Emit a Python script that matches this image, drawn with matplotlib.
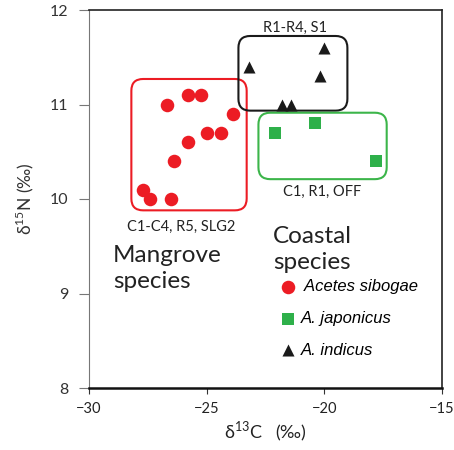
import numpy as np
import matplotlib
matplotlib.use('Agg')
import matplotlib.pyplot as plt
from matplotlib.patches import FancyBboxPatch

plt.rcParams['font.family'] = ['Lato', 'DejaVu Sans']
plt.rcParams['mathtext.fontset'] = 'custom'
plt.rcParams['mathtext.rm'] = 'Lato'
plt.rcParams['axes.unicode_minus'] = True

# Acetes sibogae (mangrove)
sib_c = [-26.7, -25.8, -25.25, -23.9, -25.0, -24.4, -25.8, -26.4, -27.7, -27.4, -26.5]
sib_n = [11.0, 11.1, 11.1, 10.9, 10.7, 10.7, 10.6, 10.4, 10.1, 10.0, 10.0]
# A. japonicus
jap_c = [-22.1, -20.4, -17.8]
jap_n = [10.7, 10.8, 10.4]
# A. indicus
ind_c = [-23.2, -20.0, -20.2, -21.8, -21.4]
ind_n = [11.4, 11.6, 11.3, 11.0, 11.0]

red = '#ec1c24'
green = '#2eb04a'

fig = plt.figure(figsize=(4.54, 4.5), dpi=100)
ax = fig.add_axes([89/454, 1-388/450, 353/454, 378/450])

ax.scatter(sib_c, sib_n, s=95, c=red, marker='o', linewidths=0, label=' Acetes sibogae', zorder=3)
ax.scatter(jap_c, jap_n, s=80, c=green, marker='s', linewidths=0, label='A. japonicus', zorder=3)
ax.scatter(ind_c, ind_n, s=75, c='#1a1a1a', marker='^', linewidths=0, label='A. indicus', zorder=3)

ax.set_xlim(-30, -15)
ax.set_ylim(8, 12)
ax.set_xticks([-30, -25, -20, -15])
ax.set_yticks([8, 9, 10, 11, 12])

# rounded group boxes (corner radius in x units, aspect fixes y)
asp = (94.5) / (23.53)
def box(x0, x1, y0, y1, col):
    p = FancyBboxPatch((x0, y0), x1 - x0, y1 - y0,
                       boxstyle='round,pad=0,rounding_size=0.5',
                       mutation_aspect=1/asp, fill=False, ec=col, lw=1.5, zorder=2)
    ax.add_patch(p)

box(-28.2, -23.3, 9.88, 11.27, red)
box(-23.65, -19.02, 10.935, 11.725, '#1a1a1a')
box(-22.8, -17.35, 10.21, 10.913, '#3cb54a')

ax.text(-21.25, 11.81, 'R1-R4, S1', ha='center', va='center', fontsize=10.5, color='#222')
ax.text(-20.1, 10.08, 'C1, R1, OFF', ha='center', va='center', fontsize=10.5, color='#222')
ax.text(-26.1, 9.71, 'C1-C4, R5, SLG2', ha='center', va='center', fontsize=10.5, color='#222')
ax.text(-28.98, 9.26, 'Mangrove\nspecies', ha='left', va='center', fontsize=17.5,
        color='#222', linespacing=1.3)
ax.text(-22.18, 9.47, 'Coastal\nspecies', ha='left', va='center', fontsize=17.5,
        color='#222', linespacing=1.3)

leg = ax.legend(loc='upper left', bbox_to_anchor=(0.50, 0.327), frameon=False,
                handletextpad=0.3, labelspacing=1.0, handlelength=0.9,
                prop={'family': 'Liberation Sans', 'style': 'italic', 'size': 12})

for s in ['top', 'right']:
    ax.spines[s].set_color('#222')
    ax.spines[s].set_linewidth(1.2)
ax.spines['left'].set_color('#777')
ax.spines['left'].set_linewidth(0.8)
ax.spines['bottom'].set_color('#111')
ax.spines['bottom'].set_linewidth(1.8)
ax.tick_params(axis='y', direction='out', length=7, width=0.8, color='#777',
               labelsize=11.5, labelcolor='#333', pad=8)
ax.tick_params(axis='x', direction='out', length=4, width=0.8, color='#333',
               labelsize=10.5, labelcolor='#222', pad=6)

ax.set_xlabel('δ$^{13}$C   (‰)', fontsize=13, color='#222', labelpad=3)
ax.set_ylabel('δ$^{15}$N (‰)', fontsize=12.5, color='#333', labelpad=10)

fig.savefig('out.png', dpi=100)
